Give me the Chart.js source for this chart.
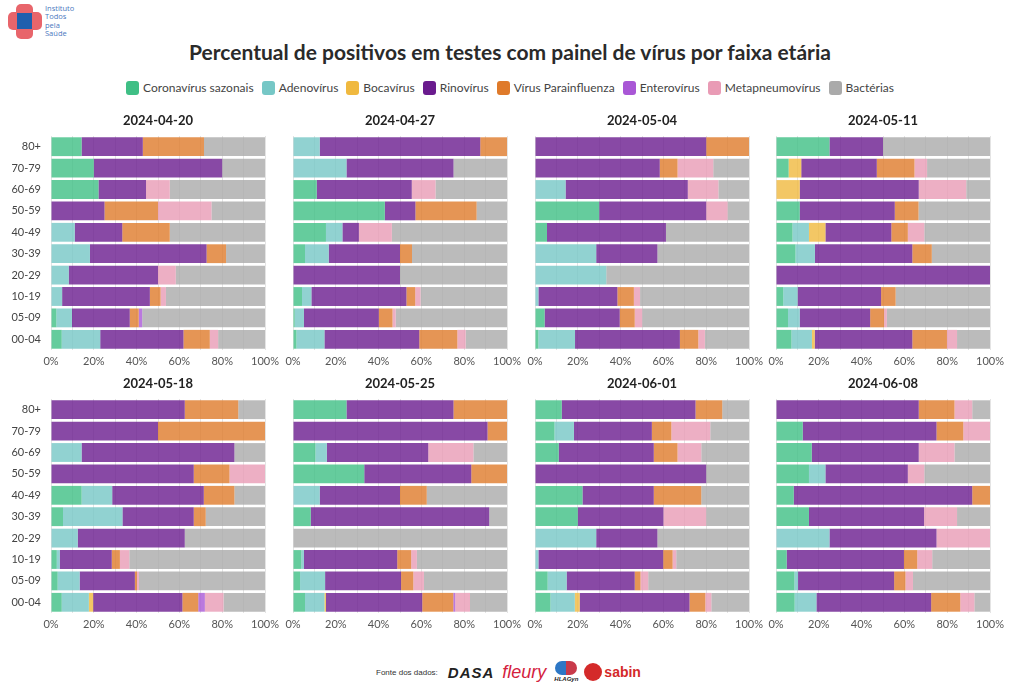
<!DOCTYPE html>
<html>
<head>
<meta charset="utf-8">
<script src="https://cdn.jsdelivr.net/npm/chart.js@4.4.1/dist/chart.umd.min.js"></script>
<style>
  body { margin: 0; width: 1020px; height: 699px; background: #fff; position: relative; overflow: hidden; font-family: Lato, sans-serif; }
  canvas.panel { position: absolute; }
  #title { position: absolute; top: 39px; left: 0; width: 1020px; text-align: center; font-size: 21px; font-weight: bold; color: #2a2a2a; }
  #legend { position: absolute; top: 80px; left: 0; width: 1020px; display: flex; justify-content: center; font-size: 12px; color: #444; }
  #legend .item { display: flex; align-items: center; margin: 0 4px; }
  #legend .box { width: 13px; height: 14px; border-radius: 3px; margin-right: 4px; }
  #logo { position: absolute; left: 6px; top: 4px; width: 80px; height: 36px; }
  #logo .v { position: absolute; left: 10px; top: 0; width: 17px; height: 35px; background: #e8656b; border-radius: 5px; }
  #logo .h { position: absolute; left: 2px; top: 8px; width: 34px; height: 18px; background: #e8656b; border-radius: 5px; }
  #logo .b { position: absolute; left: 11px; top: 9px; width: 15px; height: 16px; background: #1f5fae; }
  #logo .t { position: absolute; left: 39px; top: 0; font-size: 7.5px; line-height: 8.3px; color: #4a78c0; font-family: "Open Sans", sans-serif; }
  #footer { position: absolute; top: 657px; left: 376px; height: 30px; display: flex; align-items: center; font-family: "Liberation Sans", Arial, sans-serif; }
  #footer .src { font-size: 8px; color: #333; margin-right: 10px; }
  #footer .dasa { font-size: 15px; font-weight: bold; color: #222; letter-spacing: 1px; margin-right: 8px; font-style: italic; }
  #footer .fleury { font-size: 18px; color: #d4213d; font-style: italic; margin-right: 8px; }
  #footer .hla { font-size: 6px; font-weight: bold; color: #222; margin-right: 6px; text-align: center; line-height: 7px; font-style: italic; }
  #footer .hla i { display: block; width: 22px; height: 14px; margin: 0 auto 1px; background: linear-gradient(90deg, #2d77c5 50%, #c83a4a 50%); border-radius: 7px; }
  #footer .sabin { display: flex; align-items: center; color: #d42a2a; font-weight: bold; font-size: 14px; }
  #footer .sabin i { display: inline-block; width: 18px; height: 18px; border-radius: 50%; background: #d42a2a; margin-right: 2px; }
</style>
</head>
<body>
<div id="logo"><div class="v"></div><div class="h"></div><div class="b"></div><div class="t">Instituto<br>Todos<br>pela<br>Saúde</div></div>
<div id="title">Percentual de positivos em testes com painel de vírus por faixa etária</div>
<div id="legend"></div>
<div id="footer"><span class="src">Fonte dos dados:</span><span class="dasa">DASA</span><span class="fleury">fleury</span><span class="hla"><i></i>HLAGyn</span><span class="sabin"><i></i>sabin</span></div>
<script>
const weeks = ['2024-04-20', '2024-04-27', '2024-05-04', '2024-05-11', '2024-05-18', '2024-05-25', '2024-06-01', '2024-06-08'];
const ageGroups = ['80+', '70-79', '60-69', '50-59', '40-49', '30-39', '20-29', '10-19', '05-09', '00-04'];
const seriesNames = ['Coronavírus sazonais', 'Adenovírus', 'Bocavírus', 'Rinovírus', 'Vírus Parainfluenza', 'Enterovírus', 'Metapneumovírus', 'Bactérias'];
const seriesColors = ['#3fbf85', '#76c7c6', '#f0b93f', '#6a1b8e', '#df7a2a', '#a957d6', '#e99bb5', '#aaaaaa'];
const xTickLabels = [0, 20, 40, 60, 80, 100];

// one row per week, values per age group (80+ ... 00-04), in %
const coronavirus = [
  [14.3, 20, 22.2, 0, 0, 0, 0, 0, 2.5, 5],
  [0, 0, 11.1, 42.9, 15.4, 5.6, 0, 4.2, 0.8, 1.6],
  [0, 0, 0, 30, 5.6, 0, 0, 0, 4.5, 1.6],
  [25, 5.9, 0, 11.1, 7.7, 9.1, 0, 3.4, 5.6, 7.2],
  [0, 0, 0, 0, 14.3, 5.6, 0, 2.7, 3.1, 5],
  [25, 0, 10.5, 33.3, 0, 8.3, 0, 3.9, 3.3, 5.6],
  [12.5, 9.1, 11.1, 0, 22.2, 20, 0, 0, 5.9, 7.2],
  [0, 12.5, 16.7, 15.4, 8.3, 15.4, 0, 5, 8.6, 8.7]
];
const adenovirus = [
  [0, 0, 0, 0, 11.1, 18.2, 8.3, 5.2, 7.3, 18],
  [12.5, 25, 0, 0, 7.7, 11.1, 0, 4.4, 4.3, 13.1],
  [0, 0, 14.3, 0, 0, 28.6, 33.3, 1.6, 0, 17.1],
  [0, 0, 0, 0, 7.7, 9.1, 0, 6.7, 5.5, 9.6],
  [0, 0, 14.3, 0, 14.3, 27.8, 12.5, 1.4, 10.3, 12.7],
  [0, 0, 5.3, 0, 12.5, 0, 0, 1.2, 11.7, 9.1],
  [0, 9.1, 0, 0, 0, 0, 28.6, 1.6, 8.9, 11.4],
  [0, 0, 0, 7.7, 0, 0, 25, 0, 1.7, 10.2]
];
const bocavirus = [
  [0, 0, 0, 0, 0, 0, 0, 0, 0, 0],
  [0, 0, 0, 0, 0, 0, 0, 0, 0, 0],
  [0, 0, 0, 0, 0, 0, 0, 0, 0, 0],
  [0, 5.9, 11.1, 0, 7.7, 0, 0, 0, 0, 1.3],
  [0, 0, 0, 0, 0, 0, 0, 0, 0, 2],
  [0, 0, 0, 0, 0, 0, 0, 0, 0, 0.7],
  [0, 0, 0, 0, 0, 0, 0, 0, 0, 2.3],
  [0, 0, 0, 0, 0, 0, 0, 0, 0, 0]
];
const rinovirus = [
  [28.6, 60, 22.2, 25, 22.2, 54.5, 41.7, 41, 27, 38.9],
  [75, 50, 44.4, 14.3, 7.7, 33.3, 50, 44.4, 35, 44.3],
  [80, 58.3, 57.1, 50, 55.6, 28.6, 0, 36.9, 35.1, 49],
  [25, 35.3, 55.6, 44.4, 30.8, 45.5, 100, 39, 32.9, 45.6],
  [62.5, 50, 71.4, 66.7, 42.8, 33.3, 50, 24.3, 25.8, 41.7],
  [50, 90.9, 47.4, 50, 37.5, 83.4, 0, 43.6, 35.5, 45],
  [62.5, 36.4, 44.4, 80, 33.3, 40, 28.6, 58.3, 31.8, 51.3],
  [66.7, 62.5, 50, 38.5, 83.4, 53.8, 50, 54.8, 44.9, 53.6]
];
const parainfluenza = [
  [28.6, 0, 0, 25, 22.2, 9.1, 0, 5, 4.2, 12.3],
  [12.5, 0, 0, 28.6, 0, 5.6, 0, 4.1, 6.4, 17.8],
  [20, 8.3, 0, 0, 0, 0, 0, 7.7, 7, 8.6],
  [0, 17.6, 0, 11.1, 7.7, 9.1, 0, 6.8, 6.5, 16.2],
  [25, 50, 0, 16.7, 14.3, 5.6, 0, 3.8, 1, 7.4],
  [25, 9.1, 0, 16.7, 12.5, 0, 0, 6.5, 5.7, 14.5],
  [12.5, 9.1, 11.1, 0, 22.2, 0, 0, 4.4, 2.7, 7.4],
  [16.7, 12.5, 0, 0, 8.3, 0, 0, 6.2, 5.3, 13.6]
];
const enterovirus = [
  [0, 0, 0, 0, 0, 0, 0, 0, 1.6, 0],
  [0, 0, 0, 0, 0, 0, 0, 0, 0, 0],
  [0, 0, 0, 0, 0, 0, 0, 0, 0, 0],
  [0, 0, 0, 0, 0, 0, 0, 0, 0, 0],
  [0, 0, 0, 0, 0, 0, 0, 0, 0, 3.1],
  [0, 0, 0, 0, 0, 0, 0, 0, 0, 0.9],
  [0, 0, 0, 0, 0, 0, 0, 0, 0, 0],
  [0, 0, 0, 0, 0, 0, 0, 0, 0, 0]
];
const metapneumovirus = [
  [0, 0, 11.1, 25, 0, 0, 8.3, 2.5, 0, 3.9],
  [0, 0, 11.1, 0, 15.4, 0, 0, 2.5, 1.5, 3.9],
  [0, 16.7, 14.3, 10, 0, 0, 0, 2.9, 3.5, 3.1],
  [0, 5.9, 22.2, 0, 7.7, 0, 0, 0, 1.3, 4.7],
  [0, 0, 0, 16.6, 0, 0, 0, 4.4, 0.9, 8.7],
  [0, 0, 21.1, 0, 0, 0, 0, 2.7, 5, 6.9],
  [0, 18.2, 11.1, 0, 0, 20, 0, 1.7, 3.6, 2.8],
  [8.3, 12.5, 16.7, 7.7, 0, 15.4, 25, 7, 3.5, 6.6]
];
const bacterias = [
  [28.5, 20, 44.5, 25, 44.5, 18.2, 41.7, 46.3, 57.4, 21.9],
  [0, 25, 33.4, 14.2, 53.8, 44.4, 50, 40.4, 52, 19.3],
  [0, 16.7, 14.3, 10, 38.8, 42.8, 66.7, 50.9, 49.9, 20.6],
  [50, 29.4, 11.1, 33.4, 30.7, 27.2, 0, 44.1, 48.2, 15.4],
  [12.5, 0, 14.3, 0, 14.3, 27.7, 37.5, 63.4, 58.9, 19.4],
  [0, 0, 15.7, 0, 37.5, 8.3, 100, 42.1, 38.8, 17.3],
  [12.5, 18.1, 22.3, 20, 22.3, 20, 42.8, 34, 47.1, 17.6],
  [8.3, 0, 16.6, 30.7, 0, 15.4, 0, 27, 36, 7.3]
];

const seriesData = [coronavirus, adenovirus, bocavirus, rinovirus, parainfluenza, enterovirus, metapneumovirus, bacterias];

// legend
const legend = document.getElementById('legend');
seriesNames.forEach((name, k) => {
  const item = document.createElement('div');
  item.className = 'item';
  item.innerHTML = '<span class="box" style="background:' + seriesColors[k] + '"></span>' + name;
  legend.appendChild(item);
});

// panel layout
const plotLeft = [51, 293, 535, 776];
const plotTop = [136, 399];
const plotW = 214, plotH = 214;
const axisW = 45, padR = 22, titleH = 23, axisH = 22;
const fontFamily = 'Lato, sans-serif';

weeks.forEach((week, i) => {
  const col = i % 4, row = Math.floor(i / 4);
  const canvas = document.createElement('canvas');
  canvas.className = 'panel';
  canvas.width = axisW + plotW + padR;
  canvas.height = titleH + plotH + axisH;
  canvas.style.left = (plotLeft[col] - axisW) + 'px';
  canvas.style.top = (plotTop[row] - titleH) + 'px';
  document.body.appendChild(canvas);

  new Chart(canvas, {
    type: 'bar',
    data: {
      labels: ageGroups,
      datasets: seriesNames.map((name, k) => ({
        label: name,
        data: seriesData[k][i],
        backgroundColor: seriesColors[k] + 'cc',
        borderWidth: 0,
        barPercentage: 0.88,
        categoryPercentage: 1.0
      }))
    },
    options: {
      responsive: false,
      animation: false,
      indexAxis: 'y',
      layout: { padding: { top: 0, right: padR, bottom: 0, left: 0 } },
      plugins: {
        legend: { display: false },
        tooltip: { enabled: false },
        title: {
          display: true,
          text: week,
          fullSize: false,
          color: '#222',
          font: { family: fontFamily, size: 13, weight: 'bold', lineHeight: '16px' },
          padding: { top: 0, bottom: 7 }
        }
      },
      scales: {
        x: {
          stacked: true,
          min: 0,
          max: 100,
          afterFit: s => { s.height = axisH; },
          ticks: {
            stepSize: 10,
            autoSkip: false,
            maxRotation: 0,
            padding: 5,
            color: '#555',
            font: { family: fontFamily, size: 11 },
            callback: v => xTickLabels.includes(v) ? v + '%' : ''
          },
          grid: { color: '#e4e4e4', drawTicks: false },
          border: { display: false }
        },
        y: {
          stacked: true,
          afterFit: s => { s.width = axisW; },
          ticks: {
            display: col === 0,
            padding: 10,
            color: '#444',
            font: { family: fontFamily, size: 11 }
          },
          grid: { display: false, drawTicks: false },
          border: { display: false }
        }
      }
    }
  });
});
</script>
</body>
</html>
